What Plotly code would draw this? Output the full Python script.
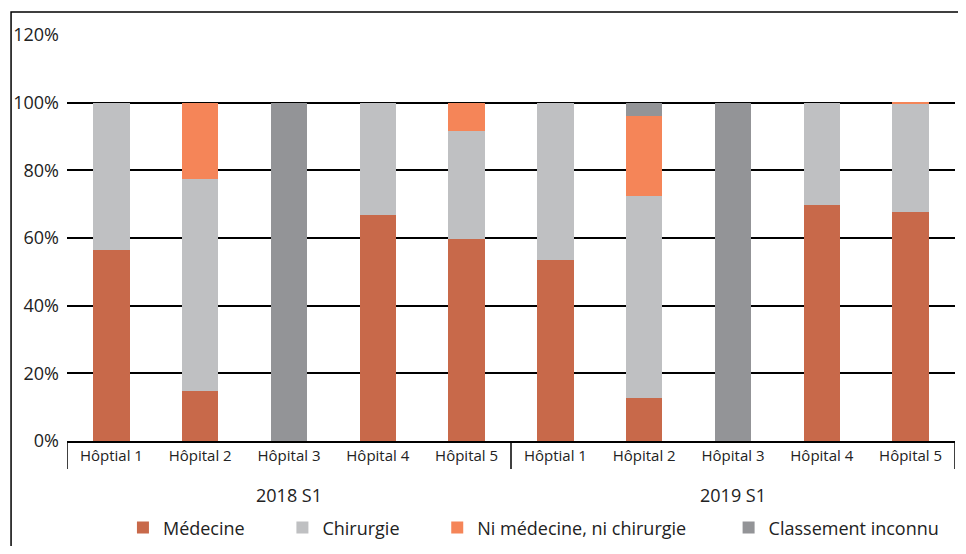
import plotly.graph_objects as go

hospitals = ["Hôptial 1", "Hôpital 2", "Hôpital 3", "Hôpital 4", "Hôpital 5",
             "Hôptial 1", "Hôpital 2", "Hôpital 3", "Hôpital 4", "Hôpital 5"]
periods = ["2018 S1", "2019 S1"]

medecine = [56.5, 14.8, 0, 66.9, 59.8, 53.6, 12.7, 0, 69.8, 67.8]
chirurgie = [43.5, 62.7, 0, 33.1, 31.9, 46.4, 59.8, 0, 30.2, 31.9]
ni_med_ni_chir = [0, 22.5, 0, 0, 8.3, 0, 23.7, 0, 0, 0.3]
inconnu = [0, 0, 100, 0, 0, 0, 3.8, 100, 0, 0]

series = [
    ("Médecine", medecine, "#C8694A"),
    ("Chirurgie", chirurgie, "#BFC0C2"),
    ("Ni médecine, ni chirurgie", ni_med_ni_chir, "#F58558"),
    ("Classement inconnu", inconnu, "#939497"),
]

xpos = list(range(len(hospitals)))
pads = [7, 7, 8, 0]

fig = go.Figure()
for k, (name, vals, col) in enumerate(series):
    label = name + "\u00a0" * pads[k]
    fig.add_trace(go.Bar(x=xpos, y=vals, name=label, marker=dict(color=col, line=dict(width=0)),
                         width=0.41))

FONT = "Open Sans"
TXT = "#222222"
# the page body adds an 8px margin, so the figure is 16px smaller than the window
fig.update_layout(
    barmode="stack",
    width=950, height=538,
    margin=dict(l=59, r=3, t=27, b=105, autoexpand=False),
    paper_bgcolor="white", plot_bgcolor="white",
    font=dict(family=FONT, color=TXT),
    showlegend=True,
    legend=dict(orientation="h", x=0.063, xanchor="left", y=-0.214, yanchor="middle",
                font=dict(size=18, family=FONT, color=TXT), itemwidth=30,
                traceorder="normal"),
    xaxis=dict(range=[-0.5, 9.5], tickvals=xpos, ticktext=hospitals, ticks="",
               tickfont=dict(size=15, family=FONT, color=TXT), ticklabelstandoff=0,
               showline=True, linecolor="black", linewidth=1.5, showgrid=False, zeroline=False),
    yaxis=dict(range=[0, 120], dtick=20, ticksuffix="%", showgrid=True, gridcolor="black",
               gridwidth=1.5, zeroline=False, showline=False, ticks="", ticklabelstandoff=7,
               tickfont=dict(size=18, family=FONT, color=TXT)),
)

# group dividers
per_group = len(hospitals) // len(periods)
shapes = []
for b in range(len(periods) + 1):
    xb = b * per_group - 0.5
    shapes.append(dict(type="line", xref="x", yref="paper", x0=xb, x1=xb, y0=0, y1=-0.069,
                       line=dict(color="black", width=1.5)))
# outer frame
shapes.append(dict(type="rect", xref="paper", yref="paper", x0=-0.063, x1=1.2, y0=-0.5, y1=1.0567,
                   line=dict(color="black", width=1.5), fillcolor="rgba(0,0,0,0)"))
fig.update_layout(shapes=shapes)

for i, p in enumerate(periods):
    fig.add_annotation(x=i * per_group + (per_group - 1) / 2, xref="x", y=-0.1326, yref="paper",
                       text=p, showarrow=False, yanchor="middle",
                       font=dict(size=18, family=FONT, color=TXT))

fig.write_html("out.html")
